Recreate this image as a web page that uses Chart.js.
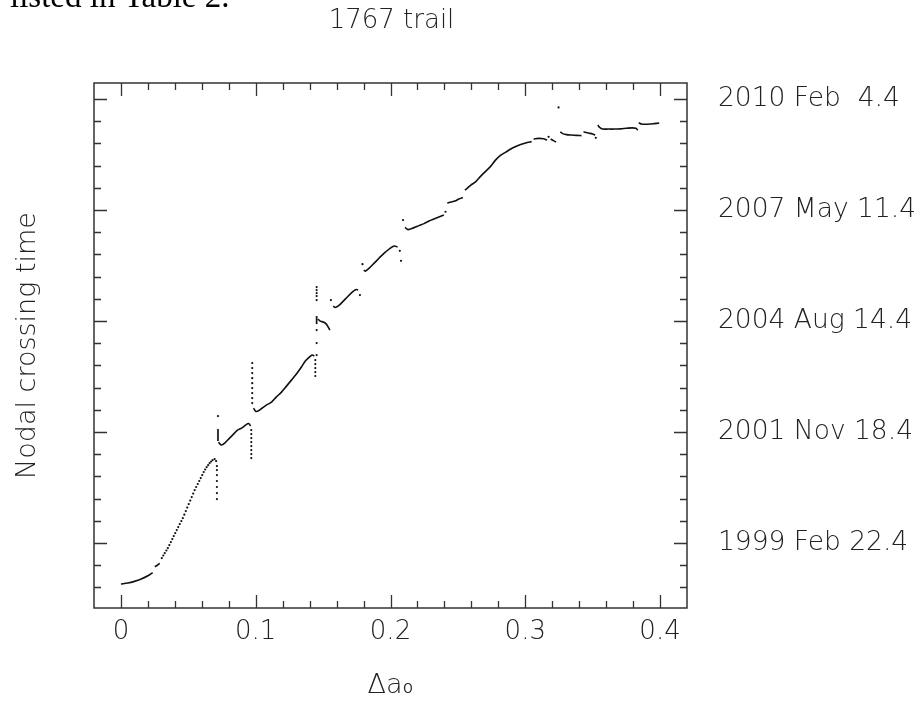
<!DOCTYPE html>
<html>
<head>
<meta charset="utf-8">
<script src="https://cdn.jsdelivr.net/npm/chart.js@4.4.1/dist/chart.umd.min.js"></script>
<style>
  html, body { margin: 0; padding: 0; background: #fff; }
  #wrap { width: 924px; height: 711px; position: relative; }
</style>
</head>
<body>
<div id="wrap"><canvas id="c" width="924" height="711"></canvas></div>
<script>
// ---- tick labels / axis values (y in days after 1999 Feb 22.4) ----
const xTickValues = [0, 0.1, 0.2, 0.3, 0.4];
const xTickLabels = ['0', '0.1', '0.2', '0.3', '0.4'];
const yTickValues = [0, 1000, 2000, 3000, 4000];
const yTickLabels = ['1999 Feb 22.4', '2001 Nov 18.4', '2004 Aug 14.4', '2007 May 11.4', '2010 Feb  4.4'];
const chartTitle = '1767 trail';
const yAxisTitle = 'Nodal crossing time';
const xAxisTitle = 'Δa₀';
const pageText = 'listed in Table 2.';

// ---- continuous pieces of the trail: [Δa0, days] ----
const segA  = [[0,-369],[0.005,-360],[0.010,-345],[0.015,-324],[0.020,-295],[0.0235,-266]];
const segA2 = [[0.0251,-213],[0.0270,-200],[0.0288,-183]];
const segC  = [[0.0725,910],[0.0732,896],[0.0745,883],[0.0770,901],[0.0806,946],[0.0843,991],[0.0865,1018],[0.0895,1036],[0.0925,1063],[0.0947,1077],[0.0962,1054]];
const segD  = [[0.0984,1216],[0.1002,1185],[0.1028,1198],[0.1078,1243],[0.1117,1270],[0.1152,1315],[0.1191,1360],[0.1228,1414],[0.1265,1468],[0.1302,1523],[0.1339,1586],[0.1368,1640],[0.1398,1676],[0.1420,1694],[0.1435,1685]];
const segE  = [[0.1461,2018],[0.1479,2000],[0.1502,1991],[0.1524,1973],[0.1538,1946],[0.1550,1919]];
const segF  = [[0.1575,2135],[0.1590,2122],[0.1620,2144],[0.1669,2204],[0.1716,2261],[0.1746,2284],[0.1760,2279]];
const segG  = [[0.1801,2459],[0.1812,2450],[0.1842,2477],[0.1879,2522],[0.1916,2568],[0.1953,2613],[0.1990,2649],[0.2027,2676],[0.2053,2667]];
const segH  = [[0.2108,2844],[0.2130,2824],[0.2175,2842],[0.2212,2860],[0.2249,2878],[0.2286,2901],[0.2322,2919],[0.2359,2937],[0.2396,2955]];
const segI  = [[0.2421,3063],[0.2448,3072],[0.2478,3081],[0.2507,3099],[0.2537,3113]];
const segJ  = [[0.2552,3180],[0.2569,3196],[0.2596,3225],[0.2631,3255],[0.2670,3306],[0.2707,3351],[0.2744,3396],[0.2779,3450],[0.2818,3495],[0.2855,3522],[0.2892,3550],[0.2929,3572],[0.2966,3590],[0.3003,3604],[0.3047,3617]];
const segK  = [[0.3062,3640],[0.3099,3646],[0.3136,3642],[0.3162,3631]];
const segK2 = [[0.3188,3640],[0.3210,3626],[0.3229,3613]];
const segL  = [[0.3260,3705],[0.3277,3689],[0.3306,3680],[0.3343,3676],[0.3380,3673],[0.3417,3671]];
const segL2 = [[0.3432,3705],[0.3469,3694],[0.3499,3686],[0.3519,3676]];
const segM  = [[0.3538,3766],[0.3554,3743],[0.3572,3731],[0.3617,3730],[0.3661,3730],[0.3706,3732],[0.3750,3737],[0.3794,3741],[0.3820,3737],[0.3835,3721]];
const segN  = [[0.3842,3787],[0.3863,3775],[0.3890,3773],[0.3928,3775],[0.3957,3779],[0.3994,3784]];

// ---- sparse (dotted) parts ----
const riseDots = [[0.0303,-135],[0.0314,-112],[0.0325,-90],[0.0337,-67],[0.0348,-45],[0.0359,-18],[0.0370,9],[0.0381,36],[0.0392,63],[0.0403,90],[0.0414,117],[0.0425,144],[0.0436,171],[0.0448,198],[0.0459,225],[0.0470,256],[0.0481,288],[0.0492,320],[0.0503,351],[0.0514,383],[0.0525,414],[0.0536,446],[0.0547,477],[0.0558,505],[0.0570,532],[0.0581,559],[0.0592,586],[0.0603,613],[0.0614,640],[0.0625,663],[0.0636,685],[0.0647,703],[0.0658,721],[0.0669,735],[0.0680,748],[0.0695,757],[0.0706,739]];
const columnDots = [
  [0.0712,694],[0.0712,658],[0.0712,613],[0.0712,559],[0.0712,505],[0.0712,450],[0.0712,396],
  [0.0720,1144],[0.0720,1018],[0.0720,1000],[0.0720,982],[0.0720,964],[0.0720,946],[0.0720,928],
  [0.0967,1018],[0.0967,982],[0.0967,946],[0.0967,910],[0.0967,874],[0.0967,838],[0.0967,802],[0.0967,766],
  [0.0974,1622],[0.0974,1577],[0.0974,1532],[0.0974,1486],[0.0974,1441],[0.0974,1396],[0.0974,1351],[0.0974,1306],[0.0974,1261],
  [0.1442,1649],[0.1442,1613],[0.1442,1577],[0.1442,1541],[0.1442,1505],
  [0.1452,2306],[0.1452,2279],[0.1452,2252],[0.1452,2225],[0.1452,2189],[0.1452,2036],[0.1452,2018],[0.1452,2000],[0.1452,1982],[0.1452,1919],[0.1452,1802],[0.1452,1694]
];
const strayDots = [[0.1558,2189],[0.1773,2234],[0.1792,2513],[0.2069,2633],[0.2078,2543],[0.2093,2910],[0.2408,2985],[0.3173,3660],[0.3247,3925],[0.3523,3651]];

const toXY = arr => arr.map(p => ({x: p[0], y: p[1]}));
const lineSegs = [segA, segA2, segC, segD, segE, segF, segG, segH, segI, segJ, segK, segK2, segL, segL2, segM, segN];
const INK = '#111';
const datasets = lineSegs.map(s => ({
  data: toXY(s), showLine: true, borderColor: INK, borderWidth: 1.6,
  pointRadius: 0, tension: 0.3, fill: false
}));
[riseDots, columnDots, strayDots].forEach(d => datasets.push({
  data: toXY(d), showLine: false, pointRadius: 1.1, pointBorderWidth: 0,
  backgroundColor: INK, pointBackgroundColor: INK
}));

const FONT = '"DejaVu Sans", "Liberation Sans", sans-serif';
const TEXT = '#222';
const WEIGHT = 200;

const framePlugin = {
  id: 'frame',
  afterDraw(chart) {
    const ctx = chart.ctx;
    const {left, right, top, bottom} = chart.chartArea;
    const xs = chart.scales.x, ys = chart.scales.y;
    ctx.save();
    ctx.strokeStyle = '#333';
    ctx.lineWidth = 1.5;
    ctx.strokeRect(left, top, right - left, bottom - top);
    ctx.lineWidth = 1.3;
    ctx.beginPath();
    for (let i = 0; i <= 20; i++) {
      const v = i * 0.02;
      const px = Math.round(xs.getPixelForValue(v)) + 0.5;
      const len = (i % 5 === 0) ? 13 : 7;
      ctx.moveTo(px, bottom); ctx.lineTo(px, bottom - len);
      ctx.moveTo(px, top); ctx.lineTo(px, top + len);
    }
    for (let v = -400; v <= 4000; v += 200) {
      const py = Math.round(ys.getPixelForValue(v)) + 0.5;
      const len = (v % 1000 === 0) ? 13 : 7;
      ctx.moveTo(left, py); ctx.lineTo(left + len, py);
      ctx.moveTo(right, py); ctx.lineTo(right - len, py);
    }
    ctx.stroke();
    // title
    ctx.fillStyle = TEXT;
    ctx.font = WEIGHT + ' 26px ' + FONT;
    ctx.textAlign = 'center';
    ctx.textBaseline = 'alphabetic';
    ctx.fillText(chartTitle, (left + right) / 2 + 1, 28);
    // cut-off page text above the figure
    ctx.fillStyle = '#000';
    ctx.font = '33px "Liberation Serif", serif';
    ctx.textAlign = 'left';
    ctx.fillText(pageText, 10, 7);
    ctx.restore();
  }
};

new Chart(document.getElementById('c'), {
  type: 'scatter',
  data: { datasets },
  options: {
    responsive: false,
    animation: false,
    devicePixelRatio: 1,
    layout: { padding: { left: 14, right: 0, top: 83, bottom: 12 } },
    plugins: { legend: { display: false }, tooltip: { enabled: false }, title: { display: false } },
    scales: {
      x: {
        type: 'linear', position: 'bottom', min: -0.02, max: 0.42,
        grid: { display: false, drawTicks: false },
        border: { display: false },
        afterBuildTicks: s => { s.ticks = xTickValues.map(v => ({value: v})); },
        afterFit: s => { s.height = 711 - 12 - 608; },
        ticks: {
          autoSkip: false, maxRotation: 0, padding: 9, color: TEXT,
          font: { family: FONT, size: 26, weight: WEIGHT },
          callback: (v, i) => xTickLabels[i]
        },
        title: {
          display: true, text: xAxisTitle, color: TEXT, padding: 0,
          font: { family: FONT, size: 27, lineHeight: 1, weight: WEIGHT }
        }
      },
      y: {
        type: 'linear', position: 'left', min: -585, max: 4145,
        grid: { display: false, drawTicks: false },
        border: { display: false },
        afterBuildTicks: s => { s.ticks = yTickValues.map(v => ({value: v})); },
        afterFit: s => { s.width = 94 - 14; },
        ticks: { display: false },
        title: {
          display: true, text: yAxisTitle, color: TEXT, padding: 0,
          font: { family: FONT, size: 27, lineHeight: 1, weight: WEIGHT }
        }
      },
      y2: {
        type: 'linear', position: 'right', min: -585, max: 4145,
        grid: { display: false, drawTicks: false },
        border: { display: false },
        afterBuildTicks: s => { s.ticks = yTickValues.map(v => ({value: v})); },
        afterFit: s => { s.width = 924 - 687; },
        ticks: {
          autoSkip: false, padding: 31, color: TEXT, crossAlign: 'near',
          font: { family: FONT, size: 26.5, weight: WEIGHT },
          callback: (v, i) => yTickLabels[i]
        }
      }
    }
  },
  plugins: [framePlugin]
});
</script>
</body>
</html>
